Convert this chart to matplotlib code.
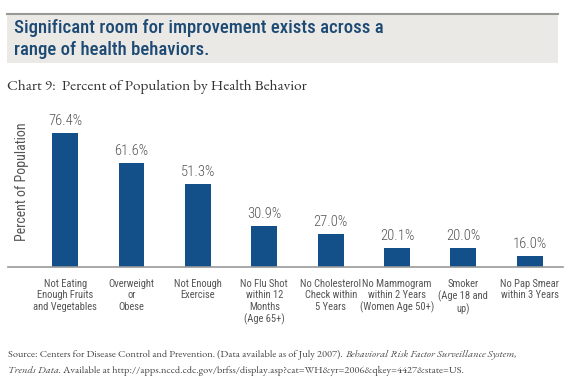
import numpy as np
import matplotlib.pyplot as plt
from matplotlib.patches import Rectangle

categories = ['Not Eating\nEnough Fruits\nand Vegetables', 'Overweight\nor\nObese',
              'Not Enough\nExercise', 'No Flu Shot\nwithin 12\nMonths\n(Age 65+)',
              'No Cholesterol\nCheck within\n5 Years', 'No Mammogram\nwithin 2 Years\n(Women Age 50+)',
              'Smoker\n(Age 18 and\nup)', 'No Pap Smear\nwithin 3 Years']
values = [76.4, 61.6, 51.3, 30.9, 27.0, 20.1, 20.0, 16.0]
value_labels = ['76.4%', '61.6%', '51.3%', '30.9%', '27.0%', '20.1%', '20.0%', '16.0%']

sans = ['Roboto Condensed', 'Liberation Sans', 'DejaVu Sans']
serif = ['EB Garamond', 'Liberation Serif', 'DejaVu Serif']
bar_color = '#13508a'
text_gray = '#555555'

fig = plt.figure(figsize=(5.79, 3.89), dpi=100)
W, H = 579, 389

# header band
fig.patches.append(Rectangle((7 / W, 1 - 63 / H), 551 / W, 50 / H, transform=fig.transFigure,
                             facecolor='#ebe9e6', edgecolor='none'))
fig.lines.append(plt.Line2D([7 / W, 558 / W], [1 - 13.5 / H, 1 - 13.5 / H], transform=fig.transFigure,
                            color='#9a9a94', lw=1.5))
fig.text(14 / W, 1 - 39 / H, 'Significant room for improvement exists across a\nrange of health behaviors.',
         family=sans, fontsize=13.5, weight='medium', color='#1d4a74', va='center', ha='left',
         linespacing=1.28)

fig.text(7 / W, 1 - 87 / H, 'Chart 9:  Percent of Population by Health Behavior',
         family=serif, fontsize=11, color='#333333', va='center', ha='left')

# chart
ax = fig.add_axes([8 / W, 1 - 266.5 / H, 555 / W, 166.5 / H])
x = np.arange(len(values))
ax.bar(x, values, width=0.39, color=bar_color)
for xi, v, lab in zip(x, values, value_labels):
    ax.annotate(lab, (xi, v), xytext=(0, 3.5), textcoords='offset points', ha='center', va='bottom',
                family=sans, fontsize=10.5, weight='light', color=text_gray)
ax.set_xlim(-0.86, 7.5)
ax.set_ylim(10.85, 92.6)
ax.set_xticks(x)
ax.set_xticklabels(categories, family=sans, fontsize=7.6, color=text_gray, linespacing=1.17, va='top')
ax.tick_params(axis='x', length=0, pad=9)
ax.set_yticks([])
for s in ['top', 'right', 'left']:
    ax.spines[s].set_visible(False)
ax.spines['bottom'].set_color('#999999')
ax.spines['bottom'].set_linewidth(1.2)
fig.text(22 / W, 1 - 182 / H, 'Percent of Population', rotation=90, family=sans, fontsize=10,
         color=text_gray, ha='center', va='center')

# source note
src = dict(family=serif, fontsize=7.5, color='#444444', va='center', ha='left')
t1 = fig.text(8 / W, 1 - 355 / H, 'Source: Centers for Disease Control and Prevention. (Data available as of July 2007). ',
              **src)
ax.annotate('Behavioral Risk Factor Surveillance System,', xy=(1, 0.5), xycoords=t1, style='italic',
            annotation_clip=False, **src)
t2 = fig.text(8 / W, 1 - 371 / H, 'Trends Data.', style='italic', **src)
ax.annotate(' Available at http://apps.nccd.cdc.gov/brfss/display.asp?cat=WH&yr=2006&qkey=4427&state=US.',
            xy=(1, 0.5), xycoords=t2, annotation_clip=False, **src)

fig.savefig('out.png', dpi=100)
